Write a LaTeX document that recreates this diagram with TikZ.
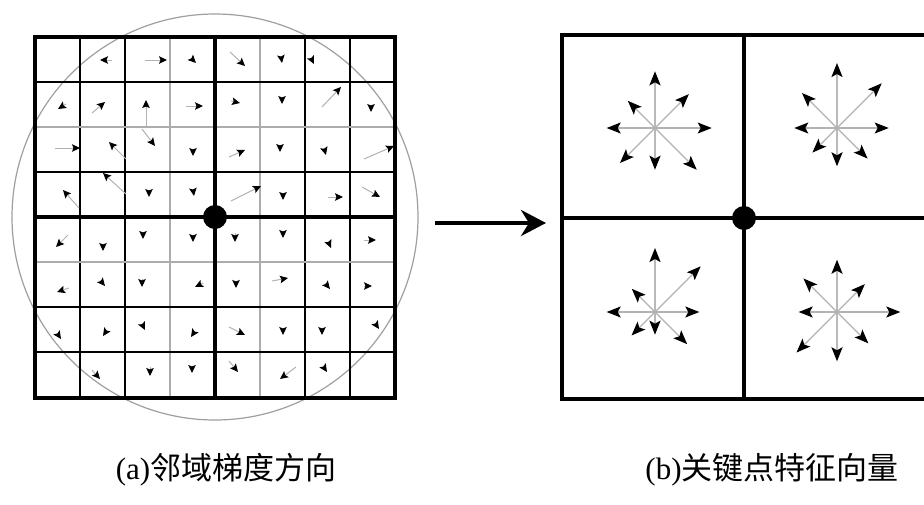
\documentclass[tikz,border=0pt]{standalone}
\usepackage{fontspec}
\setmainfont{Liberation Serif}
\newfontfamily\cjk{Noto Sans CJK SC}
\usetikzlibrary{arrows.meta}
\tikzset{
  thickline/.style={line width=3.2pt, line cap=rect},
  thinline/.style={line width=1.4pt},
  faintline/.style={line width=1.2pt, draw=gray!65},
  garrow/.style={draw=gray!60, line width=1pt, -{Stealth[length=8pt,width=7.5pt,inset=1.5pt,black]}},
  sshaft/.style={draw=gray!60, line width=1.1pt, -{Stealth[length=14pt,width=11pt,inset=3pt,black]}},
  sshaftv/.style={draw=gray!55, line width=2pt, -{Stealth[length=14pt,width=11pt,inset=3pt,black]}},
  bigarrow/.style={line width=4pt, -{Stealth[length=25pt,width=26pt,inset=8pt]}},
  caption/.style={font=\fontsize{31}{36}\selectfont, inner sep=0pt},
  keydot/.style={circle, fill=black, minimum size=24pt, inner sep=0pt}
}
\newcommand\sa[4]{\draw[garrow] (#1,#2) -- (#3,#4);}
% center x, center y, U, UR, R, DR, D, DL, L, UL
\newcommand\kstar[1]{\kstarA#1}
\newcommand\kstarA[9]{%
  \def\kcx{#1}\def\kcy{#2}\def\kU{#3}\def\kUR{#4}\def\kR{#5}\def\kDR{#6}\def\kD{#7}\def\kDL{#8}\kstarB{#9}}
\newcommand\kstarB[2]{%
  \draw[sshaftv] (\kcx,\kcy) -- ++(0,-\kU);
  \draw[sshaftv] (\kcx,\kcy) -- ++(0,\kD);
  \draw[sshaft] (\kcx,\kcy) -- ++(\kR,0);
  \draw[sshaft] (\kcx,\kcy) -- ++(-#1,0);
  \draw[sshaft] (\kcx,\kcy) -- ++({0.7071*\kUR},{-0.7071*\kUR});
  \draw[sshaft] (\kcx,\kcy) -- ++({0.7071*\kDR},{0.7071*\kDR});
  \draw[sshaft] (\kcx,\kcy) -- ++({-0.7071*\kDL},{0.7071*\kDL});
  \draw[sshaft] (\kcx,\kcy) -- ++({-0.7071*#2},{-0.7071*#2});
}
\begin{document}
\begin{tikzpicture}[x=1pt,y=-1pt]
\useasboundingbox (0,0) rectangle (924,504);
\clip (0,0) rectangle (924,504);
\fill[white] (0,0) rectangle (924,504);

% ---------- left panel ----------
\draw[draw=gray!75, line width=1.2pt] (215,217) circle (203);
\foreach \x in {80,125,305,350} \draw[thinline] (\x,37) -- (\x,398);
\foreach \x in {170,260} \draw[faintline] (\x,37) -- (\x,398);
\foreach \y in {82,172,307,352} \draw[thinline] (35,\y) -- (395,\y);
\foreach \y in {127,262} \draw[faintline] (35,\y) -- (395,\y);
\draw[thickline] (35,37) rectangle (395,398);
\draw[thickline] (215,37) -- (215,398);
\draw[thickline] (35,217) -- (395,217);

% row 1
\sa{112}{60}{100}{60}
\sa{145}{60}{167}{60}
\sa{191}{58}{196}{63}
\sa{230}{52}{245}{66}
\sa{281}{56}{282}{63}
\sa{311}{58}{314}{64}
% row 2
\sa{66}{104}{58}{109}
\sa{92}{113}{105}{102}
\sa{146}{128}{146}{100}
\sa{186}{106}{203}{106}
\sa{231}{101}{240}{103}
\sa{282}{97}{282}{104}
\sa{322}{107}{341}{87}
\sa{371}{105}{371}{112}
% row 3
\sa{55}{148}{80}{148}
\sa{126}{159}{109}{142}
\sa{142}{129}{155}{146}
\sa{193}{149}{193}{156}
\sa{229}{157}{245}{150}
\sa{280}{145}{280}{152}
\sa{324}{148}{326}{155}
\sa{364}{159}{394}{146}
% row 4
\sa{79}{208}{63}{190}
\sa{126}{194}{103}{173}
\sa{149}{190}{149}{197}
\sa{193}{189}{194}{196}
\sa{231}{201}{261}{186}
\sa{283}{193}{283}{200}
\sa{328}{197}{343}{197}
\sa{362}{187}{380}{197}
% row 5
\sa{68}{235}{56}{247}
\sa{103}{244}{103}{251}
\sa{143}{232}{143}{239}
\sa{193}{235}{193}{242}
\sa{235}{233}{235}{242}
\sa{283}{231}{283}{238}
\sa{328}{241}{331}{248}
\sa{364}{240}{376}{240}
% row 6
\sa{69}{288}{57}{292}
\sa{100}{280}{105}{286}
\sa{142}{279}{142}{287}
\sa{203}{283}{195}{287}
\sa{236}{281}{236}{288}
\sa{272}{281}{288}{278}
\sa{325}{283}{330}{289}
\sa{364}{286}{372}{286}
% row 7
\sa{57}{333}{61}{339}
\sa{107}{330}{103}{336}
\sa{142}{324}{145}{330}
\sa{195}{331}{191}{337}
\sa{229}{327}{245}{335}
\sa{283}{328}{283}{335}
\sa{322}{328}{322}{335}
\sa{375}{323}{379}{329}
% row 8
\sa{92}{370}{100}{379}
\sa{150}{367}{150}{376}
\sa{192}{366}{192}{373}
\sa{229}{361}{238}{372}
\sa{296}{367}{280}{379}
\sa{323}{366}{327}{372}

\node[keydot] (kpA) at (215,217) {};

% ---------- transition arrow ----------
\coordinate (arrS) at (435,223);
\coordinate (arrE) at (546,223);
\draw[bigarrow] (arrS) -- (arrE);

% ---------- right panel ----------
\draw[thickline] (562,35) rectangle (930,399);
\draw[thickline] (744,35) -- (744,399);
\draw[thickline] (562,218) -- (930,218);

\kstar{{655}{128}{56.7}{47.9}{56.7}{59}{41.7}{49.5}{48.3}{38.4}}
\kstar{{837}{128}{65}{63.2}{51.7}{43.2}{38.3}{34.7}{42.7}{49.5}}
\kstar{{655}{312}{64}{64.6}{44.3}{45.5}{22.7}{33.2}{48.3}{32.8}}
\kstar{{837}{312}{52.3}{39.4}{63.3}{44.3}{49.3}{57.3}{38.3}{47.4}}

\node[keydot] (kpB) at (744,218) {};

% ---------- captions ----------
\node[caption] (capA) at (226,470) {(a){\cjk 邻域梯度方向}};
\node[caption] (capB) at (772,470) {(b){\cjk 关键点特征向量}};
\end{tikzpicture}
\end{document}
